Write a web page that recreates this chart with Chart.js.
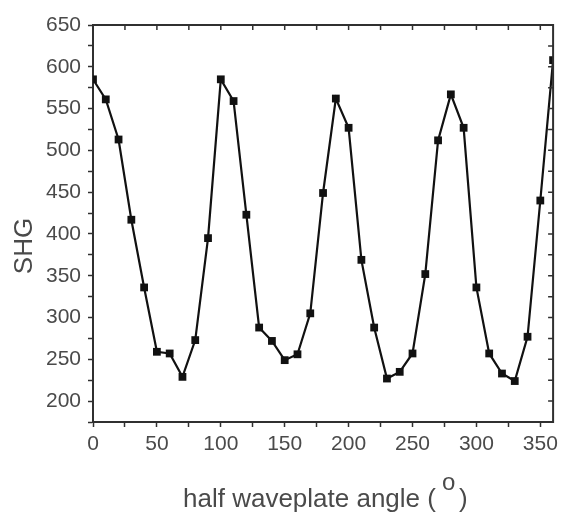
<!DOCTYPE html>
<html lang="en">
<head>
<meta charset="UTF-8">
<title>SHG vs half waveplate angle</title>
<script src="https://cdn.jsdelivr.net/npm/chart.js"></script>
<style>
  html, body { margin: 0; padding: 0; background: #fff; }
  #wrap { width: 563px; height: 512px; }
</style>
</head>
<body>
<div id="wrap"><canvas id="myChart" width="563" height="512"></canvas></div>
<script>
  // data
  const angles = [0, 10, 20, 30, 40, 50, 60, 70, 80, 90, 100, 110, 120, 130, 140, 150, 160, 170, 180,
                  190, 200, 210, 220, 230, 240, 250, 260, 270, 280, 290, 300, 310, 320, 330, 340, 350, 360];
  const shg = [585, 561, 513, 417, 336, 259, 257, 229, 273, 395, 585, 559, 423, 288, 272, 249, 256, 305, 449,
               562, 527, 369, 288, 227, 235, 257, 352, 512, 567, 527, 336, 257, 233, 224, 277, 440, 608];
  const xLabels = [0, 50, 100, 150, 200, 250, 300, 350];
  const yLabels = [200, 250, 300, 350, 400, 450, 500, 550, 600, 650];

  const textColor = '#4a4a4a';
  const axisColor = '#303030';
  const font = '"Liberation Sans", Arial, sans-serif';

  // top/right frame with inward ticks, plus the axis titles
  const frame = {
    id: 'frame',
    afterDraw(chart) {
      const ctx = chart.ctx;
      const a = chart.chartArea;
      const x = chart.scales.x, y = chart.scales.y;
      ctx.save();
      ctx.strokeStyle = axisColor;
      ctx.lineWidth = 2;
      ctx.beginPath();
      ctx.moveTo(a.left - 1, a.top);
      ctx.lineTo(a.right, a.top);
      ctx.lineTo(a.right, a.bottom + 1);
      ctx.stroke();
      ctx.lineWidth = 1.5;
      ctx.beginPath();
      x.ticks.forEach(t => {
        const px = x.getPixelForValue(t.value);
        ctx.moveTo(px, a.top);
        ctx.lineTo(px, a.top + 5);
      });
      y.ticks.forEach(t => {
        const py = y.getPixelForValue(t.value);
        ctx.moveTo(a.right, py);
        ctx.lineTo(a.right - 5, py);
      });
      ctx.stroke();

      ctx.fillStyle = textColor;
      ctx.font = '26px ' + font;
      ctx.textBaseline = 'alphabetic';
      ctx.textAlign = 'left';
      const t1 = 'half waveplate angle (';
      ctx.fillText(t1, 183, 507);
      const w1 = ctx.measureText(t1).width;
      ctx.font = '24px ' + font;
      ctx.fillText('o', 183 + w1 + 6, 490);
      ctx.font = '26px ' + font;
      ctx.fillText(')', 183 + w1 + 23, 507);

      ctx.translate(32, 246);
      ctx.rotate(-Math.PI / 2);
      ctx.textAlign = 'center';
      ctx.fillText('SHG', 0, 0);
      ctx.restore();
    }
  };

  const ctx = document.getElementById('myChart').getContext('2d');
  const chart = new Chart(ctx, {
    type: 'line',
    data: {
      datasets: [{
        label: 'SHG',
        data: angles.map((a, i) => ({ x: a, y: shg[i] })),
        borderColor: '#111',
        backgroundColor: '#111',
        borderWidth: 2.2,
        pointStyle: 'rect',
        pointRadius: 5.5,
        pointBorderWidth: 0,
        tension: 0
      }]
    },
    plugins: [frame],
    options: {
      responsive: false,
      animation: false,
      layout: { padding: { top: 25, right: 6, left: 0, bottom: 0 } },
      plugins: { legend: { display: false }, tooltip: { enabled: false } },
      scales: {
        x: {
          type: 'linear',
          min: 0,
          max: 360,
          afterFit: s => { s.height = 90; },
          grid: { drawOnChartArea: false, drawTicks: true, tickLength: 5, tickColor: axisColor, tickWidth: 1.5 },
          border: { display: true, color: axisColor, width: 2 },
          ticks: {
            stepSize: 25,
            includeBounds: false,
            autoSkip: false,
            maxRotation: 0,
            padding: 5,
            color: textColor,
            font: { family: font, size: 21 },
            callback: v => xLabels.includes(v) ? String(v) : ''
          }
        },
        y: {
          min: 175,
          max: 650,
          afterFit: s => { s.width = 93; },
          grid: { drawOnChartArea: false, drawTicks: true, tickLength: 5, tickColor: axisColor, tickWidth: 1.5 },
          border: { display: true, color: axisColor, width: 2 },
          ticks: {
            stepSize: 25,
            autoSkip: false,
            padding: 7,
            color: textColor,
            font: { family: font, size: 21 },
            callback: v => yLabels.includes(v) ? String(v) : ''
          }
        }
      }
    }
  });
</script>
</body>
</html>
